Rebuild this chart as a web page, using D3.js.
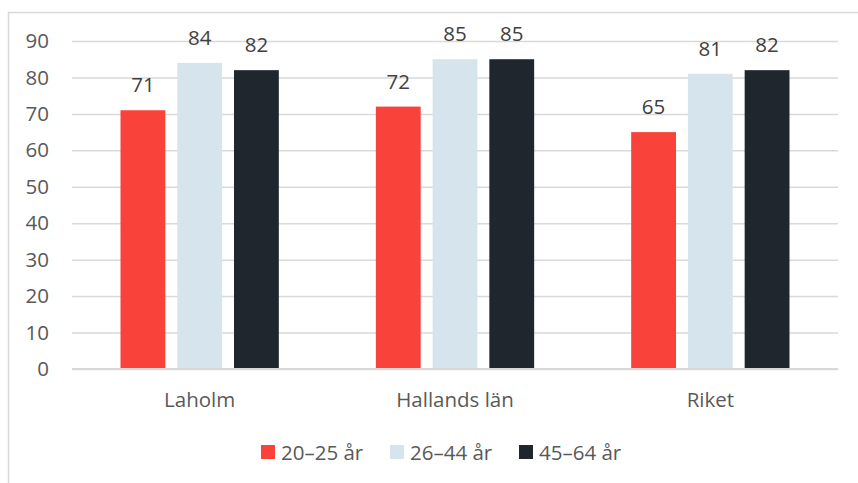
<!DOCTYPE html>
<html>
<head>
<meta charset="utf-8">
<script src="https://cdn.jsdelivr.net/npm/d3@7"></script>
<style>
  body { margin: 0; background: #fff; }
  text { font-family: "Open Sans", sans-serif; }
</style>
</head>
<body>
<div id="chart"></div>
<script>
// categories and series
const categories = ["Laholm", "Hallands län", "Riket"];
const seriesNames = ["20–25 år", "26–44 år", "45–64 år"];
const seriesColors = ["#f9423a", "#d6e4ee", "#1f262e"];
const values2025 = [71, 72, 65];
const values2644 = [84, 85, 81];
const values4564 = [82, 85, 82];
const yTicks = [0, 10, 20, 30, 40, 50, 60, 70, 80, 90];

const seriesValues = [values2025, values2644, values4564];

const W = 858, H = 483;
const margin = {top: 41, right: 20, bottom: 114, left: 72};
const width = W - margin.left - margin.right;
const height = H - margin.top - margin.bottom;
const fontSize = "20.5px";

const svg = d3.select("#chart").append("svg")
    .attr("width", W)
    .attr("height", H);

// chart area border (only left and top visible in the reference)
svg.append("rect")
    .attr("x", 8.5).attr("y", 12.5)
    .attr("width", W + 20).attr("height", H + 20)
    .attr("fill", "none")
    .attr("stroke", "#d9d9d9")
    .attr("stroke-width", 1.5);

const g = svg.append("g")
    .attr("transform", "translate(" + margin.left + "," + margin.top + ")");

// scales
const x0 = d3.scaleBand()
    .domain(categories)
    .range([0, width])
    .paddingInner(0)
    .paddingOuter(0);

const x1 = d3.scaleBand()
    .domain(seriesNames)
    .range([0, x0.bandwidth() * 0.62])
    .paddingInner(0.21)
    .paddingOuter(0);

const y = d3.scaleLinear()
    .domain([0, 90])
    .range([height, 0]);

// gridlines
const grid = g.append("g")
    .call(d3.axisLeft(y).tickValues(yTicks).tickSize(-width).tickFormat(""));
grid.select(".domain").remove();
grid.selectAll("line").attr("stroke", "#d9d9d9").attr("stroke-width", 1.5);

// y tick labels
const yAxis = g.append("g")
    .call(d3.axisLeft(y).tickValues(yTicks).tickSize(0).tickPadding(23));
yAxis.select(".domain").remove();
yAxis.selectAll("text")
    .attr("fill", "#595959")
    .style("font-size", fontSize);

// bars
const groupOffset = (x0.bandwidth() - x0.bandwidth() * 0.62) / 2;
const groups = g.selectAll(".group")
    .data(categories)
    .enter()
    .append("g")
    .attr("transform", d => "translate(" + (x0(d) + groupOffset) + ",0)");

groups.selectAll("rect")
    .data((c, i) => seriesNames.map((s, j) => ({series: s, val: seriesValues[j][i], color: seriesColors[j]})))
    .enter()
    .append("rect")
    .attr("x", d => x1(d.series))
    .attr("y", d => y(d.val))
    .attr("width", x1.bandwidth())
    .attr("height", d => height - y(d.val))
    .attr("fill", d => d.color);

// value labels
groups.selectAll(".val")
    .data((c, i) => seriesNames.map((s, j) => ({series: s, val: seriesValues[j][i]})))
    .enter()
    .append("text")
    .attr("x", d => x1(d.series) + x1.bandwidth() / 2)
    .attr("y", d => y(d.val) - 18)
    .attr("text-anchor", "middle")
    .attr("fill", "#404040")
    .style("font-size", fontSize)
    .text(d => d.val);

// baseline
g.append("line")
    .attr("x1", 0).attr("x2", width)
    .attr("y1", height).attr("y2", height)
    .attr("stroke", "#d9d9d9")
    .attr("stroke-width", 2);

// x axis labels
const xAxis = g.append("g")
    .attr("transform", "translate(0," + height + ")")
    .call(d3.axisBottom(x0).tickSize(0).tickPadding(23));
xAxis.select(".domain").remove();
xAxis.selectAll("text")
    .attr("fill", "#595959")
    .style("font-size", fontSize);

// legend
const legendX = [261, 390, 519];
const legend = svg.append("g");
seriesNames.forEach((s, i) => {
    legend.append("rect")
        .attr("x", legendX[i]).attr("y", 445)
        .attr("width", 14).attr("height", 14)
        .attr("fill", seriesColors[i]);
    legend.append("text")
        .attr("x", legendX[i] + 20).attr("y", 460)
        .attr("fill", "#595959")
        .style("font-size", fontSize)
        .text(s);
});
</script>
</body>
</html>
